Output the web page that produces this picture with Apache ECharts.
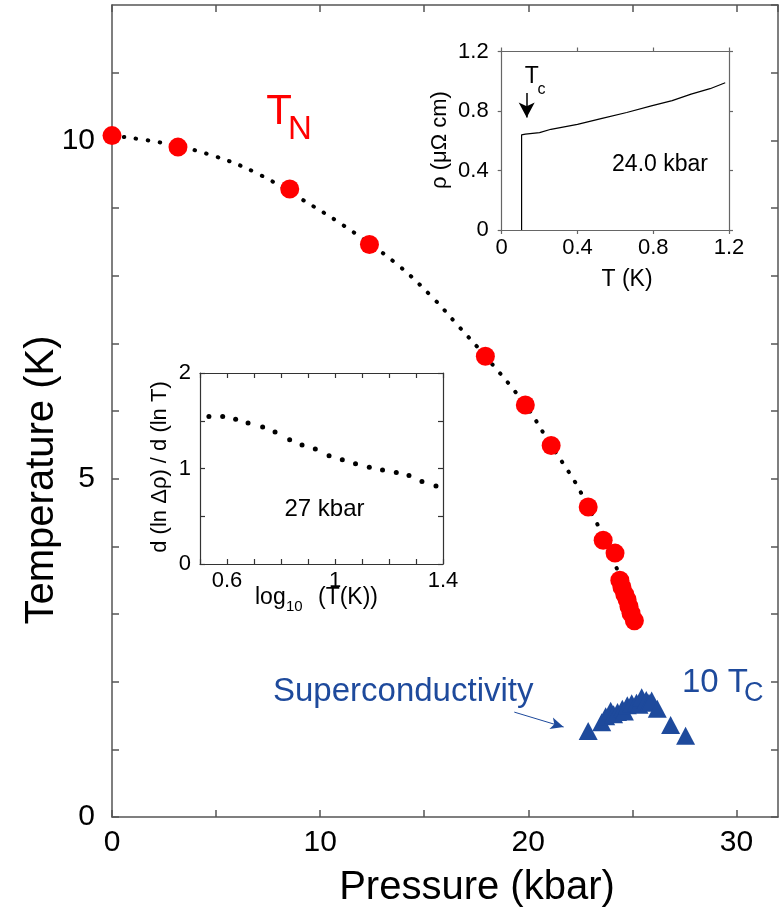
<!DOCTYPE html>
<html>
<head>
<meta charset="utf-8">
<script src="https://cdn.jsdelivr.net/npm/echarts@6/dist/echarts.min.js"></script>
<style>html,body{margin:0;padding:0;background:#fff}#c{width:780px;height:915px}</style>
</head>
<body>
<div id="c"></div>
<script>
// ---- Main panel: Neel temperature T_N vs pressure ----
const tnPressure = [0, 3.17, 8.54, 12.37, 17.94, 19.86, 21.10, 22.88, 23.60, 24.17, 24.40, 24.50, 24.64, 24.75, 24.84, 24.94, 25.10];
const tnTemp     = [10.07, 9.90, 9.28, 8.46, 6.81, 6.09, 5.49, 4.58, 4.09, 3.90, 3.50, 3.40, 3.29, 3.21, 3.11, 3.01, 2.90];
// dotted guide curve through T_N
const fitPressure = [0, 2.45, 4.99, 7.05, 9.11, 11.13, 13.57, 15.30, 16.69, 17.94, 19.86, 21.10, 22.25, 22.88, 23.41, 24.27, 24.50];
const fitTemp     = [10.07, 9.96, 9.76, 9.50, 9.13, 8.74, 8.20, 7.71, 7.24, 6.81, 6.09, 5.49, 4.95, 4.58, 4.27, 3.66, 3.45];
// superconductivity: 10 x Tc
const scPressure = [22.88, 23.53, 23.72, 23.96, 24.10, 24.29, 24.52, 24.62, 24.76, 24.97, 25.20, 25.32, 25.45, 25.67, 25.80, 25.93, 26.20, 26.84, 27.56];
const scTenTc    = [1.27, 1.40, 1.49, 1.57, 1.52, 1.55, 1.60, 1.56, 1.65, 1.68, 1.69, 1.66, 1.77, 1.73, 1.69, 1.72, 1.60, 1.36, 1.20];
const mainXTicks = [0, 10, 20, 30];
const mainYTicks = [0, 5, 10];

// ---- Upper inset: resistivity vs T at 24.0 kbar ----
const rhoTemp  = [0.105, 0.105, 0.112, 0.125, 0.135, 0.20, 0.26, 0.40, 0.53, 0.66, 0.79, 0.90, 1.00, 1.10, 1.18];
const rhoValue = [0, 0.64, 0.65, 0.645, 0.632, 0.655, 0.677, 0.71, 0.75, 0.79, 0.834, 0.87, 0.913, 0.95, 0.99];

// ---- Lower inset: d(ln drho)/d(ln T) vs log10 T at 27 kbar ----
const logT  = [0.533, 0.584, 0.632, 0.678, 0.732, 0.778, 0.832, 0.878, 0.927, 0.978, 1.027, 1.076, 1.127, 1.176, 1.227, 1.274, 1.322, 1.374];
const slope = [1.545, 1.545, 1.517, 1.476, 1.434, 1.381, 1.301, 1.245, 1.203, 1.133, 1.091, 1.049, 1.014, 0.983, 0.958, 0.927, 0.864, 0.818];
const inset2XTicks = [0.6, 1, 1.4];
const inset2YTicks = [0, 1, 2];

const FONT = '"Liberation Sans", Arial, Helvetica, sans-serif';
const RED = '#ff0000';
const BLUE = '#1e4a9c';
const FRAME = '#555';

const zip = (a, b) => a.map((v, i) => [v, b[i]]);
const near = (v, list) => list.some(t => Math.abs(v - t) < 1e-6);

function frameAxis(base, extra) { return Object.assign({}, base, extra); }

function makeAxes(gi, xCfg, yCfg, tick) {
  const line = { show: true, onZero: false, lineStyle: { color: tick.color, width: tick.width } };
  const tk = { show: true, inside: tick.inside, length: tick.length, lineStyle: { color: tick.color, width: tick.width } };
  const xBase = { type: 'value', gridIndex: gi, min: xCfg.min, max: xCfg.max, interval: xCfg.interval,
    axisLine: line, axisTick: tk, splitLine: { show: false }, axisPointer: { show: false } };
  const yBase = { type: 'value', gridIndex: gi, min: yCfg.min, max: yCfg.max, interval: yCfg.interval,
    axisLine: line, axisTick: tk, splitLine: { show: false }, axisPointer: { show: false } };
  const xs = [
    frameAxis(xBase, { position: 'bottom', axisLabel: { show: true, formatter: xCfg.fmt, fontSize: xCfg.fs, margin: xCfg.margin, color: '#000', fontFamily: FONT, showMaxLabel: xCfg.showMax, showMinLabel: true } }),
    frameAxis(xBase, { position: 'top', axisLabel: { show: false } })
  ];
  const ys = [
    frameAxis(yBase, { position: 'left', axisLabel: { show: true, formatter: yCfg.fmt, fontSize: yCfg.fs, margin: yCfg.margin, color: '#000', fontFamily: FONT, showMaxLabel: yCfg.showMax, showMinLabel: true } }),
    frameAxis(yBase, { position: 'right', axisLabel: { show: false } })
  ];
  return { xs, ys };
}

const m = makeAxes(0,
  { min: 0, max: 32, interval: 5, fs: 30, margin: 11, showMax: false, fmt: v => near(v, mainXTicks) ? String(v) : '' },
  { min: 0, max: 12, interval: 1, fs: 30, margin: 17, showMax: false, fmt: v => near(v, mainYTicks) ? String(v) : '' },
  { inside: true, length: 7, color: FRAME, width: 1.5 });
const a = makeAxes(1,
  { min: 0, max: 1.2, interval: 0.4, fs: 22, margin: 7, showMax: true, fmt: v => String(Math.round(v * 10) / 10) },
  { min: 0, max: 1.2, interval: 0.4, fs: 22, margin: 13, showMax: true, fmt: v => String(Math.round(v * 10) / 10) },
  { inside: false, length: 4, color: '#666', width: 1.2 });
const b = makeAxes(2,
  { min: 0.5, max: 1.4, interval: 0.1, fs: 22, margin: 6, showMax: true, fmt: v => near(v, inset2XTicks) ? String(Math.round(v * 10) / 10) : '' },
  { min: 0, max: 2, interval: 0.5, fs: 22, margin: 9, showMax: true, fmt: v => near(v, inset2YTicks) ? String(v) : '' },
  { inside: true, length: 5, color: '#333', width: 1.2 });

function txt(text, x, y, size, color, opts) {
  opts = opts || {};
  return { type: 'text', x: x, y: y, rotation: opts.rotation || 0, z: 100,
    style: { text: text, fontSize: size, fontFamily: FONT, fill: color, align: opts.align || 'center', verticalAlign: opts.va || 'middle' } };
}

const option = {
  animation: false,
  backgroundColor: '#fff',
  grid: [
    { left: 112, top: 5, width: 666, height: 812 },
    { left: 501.7, top: 51.5, width: 227.3, height: 178.5 },
    { left: 200, top: 373, width: 243, height: 191 }
  ],
  xAxis: [...m.xs, ...a.xs, ...b.xs],
  yAxis: [...m.ys, ...a.ys, ...b.ys],
  series: [
    { type: 'line', xAxisIndex: 0, yAxisIndex: 0, data: zip(fitPressure, fitTemp), smooth: 0.4,
      showSymbol: false, symbol: 'none', z: 2, silent: true,
      lineStyle: { color: '#000', width: 4, type: [0.5, 11.5], cap: 'round' } },
    { type: 'scatter', xAxisIndex: 0, yAxisIndex: 0, data: zip(tnPressure, tnTemp), symbol: 'circle',
      symbolSize: 19, itemStyle: { color: RED, opacity: 1 }, z: 3, silent: true },
    { type: 'scatter', xAxisIndex: 0, yAxisIndex: 0, data: zip(scPressure, scTenTc), symbol: 'triangle',
      symbolSize: [19, 18], itemStyle: { color: BLUE, opacity: 1 }, z: 3, silent: true,
      markLine: { silent: true, animation: false, symbol: ['none', 'arrow'], symbolSize: [9, 13],
        label: { show: false }, lineStyle: { color: BLUE, width: 1, type: 'solid', opacity: 1 },
        data: [[{ coord: [19.33, 1.55] }, { coord: [21.70, 1.33] }]] } },
    { type: 'line', xAxisIndex: 2, yAxisIndex: 2, data: zip(rhoTemp, rhoValue), showSymbol: false, symbol: 'none',
      lineStyle: { color: '#000', width: 1.2 }, silent: true,
      markLine: { silent: true, animation: false, symbol: ['none', 'arrow'], symbolSize: [12, 15],
        label: { show: false }, lineStyle: { color: '#000', width: 1.5, type: 'solid', opacity: 1 },
        data: [[{ coord: [0.132, 0.921] }, { coord: [0.132, 0.756] }]] } },
    { type: 'scatter', xAxisIndex: 4, yAxisIndex: 4, data: zip(logT, slope), symbol: 'circle', symbolSize: 5,
      itemStyle: { color: '#000', opacity: 1 }, silent: true }
  ],
  graphic: [
    txt('Temperature (K)', 42, 480, 40, '#000', { rotation: Math.PI / 2 }),
    txt('Pressure (kbar)', 477, 888, 40, '#000'),
    txt('T', 279, 112, 42, RED),
    txt('N', 300, 130, 33, RED),
    txt('10 T', 682, 683, 33, BLUE, { align: 'left' }),
    txt('C', 744, 694, 27, BLUE, { align: 'left' }),
    txt('Superconductivity', 273, 692, 33, BLUE, { align: 'left' }),
    txt('ρ (μΩ cm)', 440, 140, 22, '#000', { rotation: Math.PI / 2 }),
    txt('T (K)', 627, 280, 23, '#000'),
    txt('24.0 kbar', 660, 164.5, 23, '#000'),
    txt('T', 531.7, 77, 23, '#000'),
    txt('c', 541.5, 90, 16, '#000'),
    txt('d (ln Δρ) / d (ln T)', 160, 467, 22, '#000', { rotation: Math.PI / 2 }),
    txt('log', 255, 598, 23, '#000', { align: 'left' }),
    txt('10', 286, 607, 15, '#000', { align: 'left' }),
    txt('(T(K))', 318, 598, 23, '#000', { align: 'left' }),
    txt('27 kbar', 324.5, 509.5, 24, '#000')
  ]
};

const chart = echarts.init(document.getElementById('c'), null, { renderer: 'canvas' });
chart.setOption(option);
</script>
</body>
</html>
